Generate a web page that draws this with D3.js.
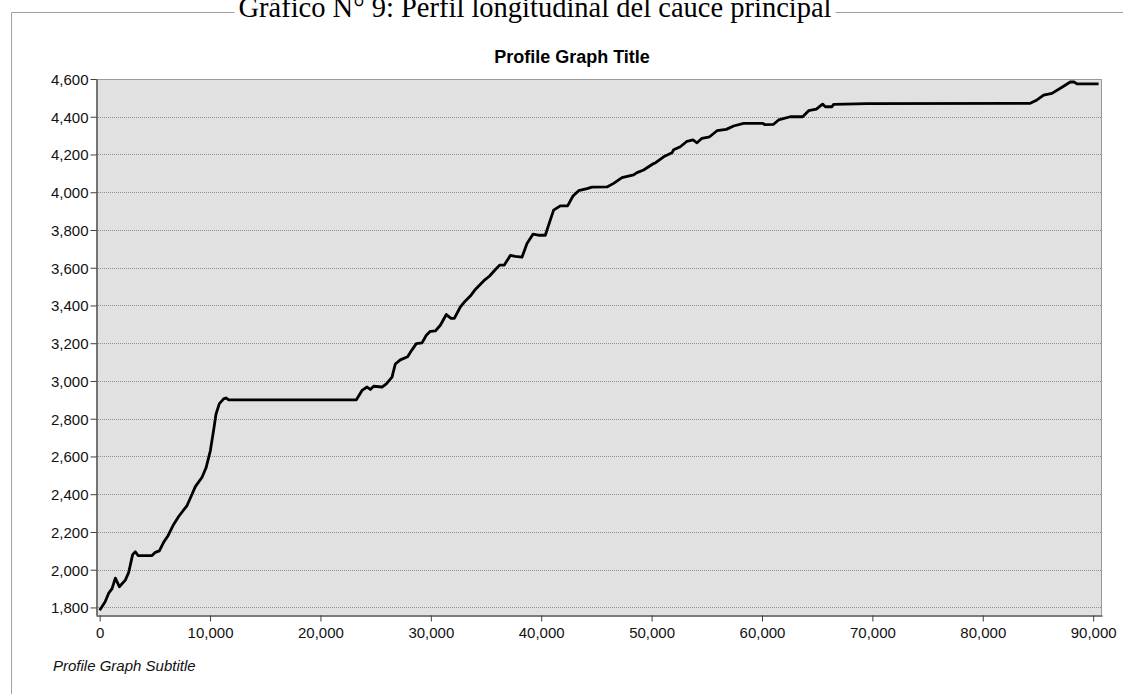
<!DOCTYPE html>
<html>
<head>
<meta charset="utf-8">
<script src="https://cdn.jsdelivr.net/npm/d3@7"></script>
<style>
  html, body { margin: 0; padding: 0; background: #ffffff; }
  svg { display: block; }
</style>
</head>
<body>
<svg id="chart" width="1123" height="694"></svg>
<script>
// ---- data ----
const captionText = "Gráfico N° 9: Perfil longitudinal del cauce principal";
const chartTitle = "Profile Graph Title";
const chartSubtitle = "Profile Graph Subtitle";

const distance = [
  0, 500, 815, 1123, 1422, 1785, 2328, 2627, 2989, 3234, 3478, 4746, 5045, 5408, 5797,
  6196, 6703, 7156, 7917, 8370, 8669, 9276, 9638, 10027, 10327, 10543, 10843, 11232,
  11443, 11685, 23255, 23768, 24221, 24520, 24819, 25580, 25969, 26485, 26784, 27237,
  27898, 28296, 28686, 29203, 29593, 29955, 30408, 30861, 31404, 31830, 32129, 32672,
  33125, 33578, 34031, 34782, 35326, 35751, 36232, 36658, 37201, 37654, 38259, 38712,
  39256, 39854, 40371, 40670, 41123, 41729, 42391, 42879, 43387, 44147, 44600, 45959,
  46558, 47317, 48370, 48679, 49276, 50182, 50335, 51088, 51849, 51994, 52601, 53207,
  53750, 54112, 54565, 55254, 55924, 56767, 57428, 58333, 60090, 60240, 61050, 61503,
  62565, 63682, 64225, 64922, 65490, 65735, 66341, 66487, 69511, 84303, 84907, 85511,
  86266, 87172, 87927, 88289, 88530, 90490
];
const elevation = [
  1785, 1830, 1875, 1900, 1955, 1910, 1945, 1985, 2080, 2095, 2075, 2075, 2092, 2100, 2145,
  2180, 2240, 2282, 2340, 2400, 2440, 2490, 2540, 2630, 2740, 2825, 2880, 2905,
  2910, 2900, 2900, 2950, 2968, 2955, 2972, 2968, 2985, 3020, 3090, 3112,
  3128, 3165, 3198, 3202, 3242, 3263, 3265, 3295, 3352, 3332, 3332, 3392,
  3424, 3450, 3485, 3530, 3556, 3584, 3614, 3614, 3665, 3660, 3656, 3728,
  3778, 3772, 3772, 3826, 3905, 3928, 3928, 3980, 4008, 4019, 4027, 4028,
  4047, 4077, 4092, 4104, 4118, 4152, 4155, 4188, 4209, 4225, 4241, 4270,
  4277, 4262, 4286, 4294, 4326, 4333, 4351, 4365, 4365, 4358, 4360, 4383,
  4400, 4400, 4432, 4440, 4467, 4453, 4453, 4466, 4469, 4471, 4489, 4514,
  4524, 4556, 4584, 4584, 4574, 4574
];
const xTicks = [0, 10000, 20000, 30000, 40000, 50000, 60000, 70000, 80000, 90000];
const yTicks = [1800, 2000, 2200, 2400, 2600, 2800, 3000, 3200, 3400, 3600, 3800, 4000, 4200, 4400, 4600];

// ---- layout ----
const svg = d3.select("#chart");
const plot = { left: 96, right: 1102, top: 79, bottom: 615 };
const x = d3.scaleLinear().domain([-330, 90800]).range([plot.left, plot.right]);
const y = d3.scaleLinear().domain([1760, 4600]).range([plot.bottom, plot.top]);
const fmt = d3.format(",");
const uiFont = "'Liberation Sans', Arial, sans-serif";

// outer frame (left + top visible)
svg.append("path")
  .attr("d", "M11.5,700 L11.5,12.5 L1130,12.5")
  .attr("fill", "none")
  .attr("stroke", "#a0a0a0")
  .attr("stroke-width", 1);

// caption (partly cut off at top, as in the reference), on a white backing
const cap = svg.append("text")
  .attr("x", 535).attr("y", 17)
  .attr("text-anchor", "middle")
  .style("font-family", "'Liberation Serif', 'Times New Roman', serif")
  .style("font-size", "28.5px")
  .attr("fill", "#000")
  .text(captionText);
const cb = cap.node().getBBox();
svg.insert("rect", "text")
  .attr("x", cb.x - 4).attr("y", 0)
  .attr("width", cb.width + 8).attr("height", 16)
  .attr("fill", "#fff");

// plot background
svg.append("rect")
  .attr("x", plot.left).attr("y", plot.top)
  .attr("width", plot.right - plot.left).attr("height", plot.bottom - plot.top)
  .attr("fill", "#e1e1e1");

// gridlines
svg.append("g")
  .selectAll("line")
  .data(yTicks.filter(d => d < 4600))
  .join("line")
  .attr("x1", plot.left).attr("x2", plot.right)
  .attr("y1", d => Math.round(y(d)) + 0.5).attr("y2", d => Math.round(y(d)) + 0.5)
  .attr("stroke", "#8f8f8f")
  .attr("stroke-width", 1)
  .attr("stroke-dasharray", "1,1");

// top and right border
svg.append("path")
  .attr("d", `M${plot.left},${plot.top + 0.5} H${plot.right - 0.5} V${plot.bottom}`)
  .attr("fill", "none")
  .attr("stroke", "#9a9a9a")
  .attr("stroke-width", 1);

// profile line
const pts = distance.map((d, i) => [d, elevation[i]]);
svg.append("path")
  .datum(pts)
  .attr("fill", "none")
  .attr("stroke", "#000")
  .attr("stroke-width", 2.8)
  .attr("stroke-linejoin", "round")
  .attr("d", d3.line().x(d => x(d[0])).y(d => y(d[1])));

// axes
const yAxis = svg.append("g")
  .attr("transform", `translate(${plot.left + 0.5},0)`)
  .call(d3.axisLeft(y).tickValues(yTicks).tickFormat(fmt).tickSize(6).tickSizeOuter(0));
const xAxis = svg.append("g")
  .attr("transform", `translate(0,${plot.bottom + 0.5})`)
  .call(d3.axisBottom(x).tickValues(xTicks).tickFormat(fmt).tickSize(6).tickSizeOuter(0));

[yAxis, xAxis].forEach(g => {
  g.select(".domain").attr("stroke", "#505050").attr("stroke-width", 1.5);
  g.selectAll(".tick line").attr("stroke", "#404040").attr("stroke-width", 1);
  g.selectAll(".tick text")
    .style("font-family", uiFont)
    .style("font-size", "15px")
    .attr("fill", "#111");
});
yAxis.selectAll(".tick text").attr("x", -8).attr("dy", "0.36em");
xAxis.selectAll(".tick text").attr("y", 12);

// title
svg.append("text")
  .attr("x", 572).attr("y", 63)
  .attr("text-anchor", "middle")
  .style("font-family", uiFont)
  .style("font-size", "18px")
  .style("font-weight", "bold")
  .attr("fill", "#000")
  .text(chartTitle);

// subtitle
svg.append("text")
  .attr("x", 53).attr("y", 671)
  .style("font-family", uiFont)
  .style("font-size", "15px")
  .style("font-style", "italic")
  .attr("fill", "#111")
  .text(chartSubtitle);
</script>
</body>
</html>
